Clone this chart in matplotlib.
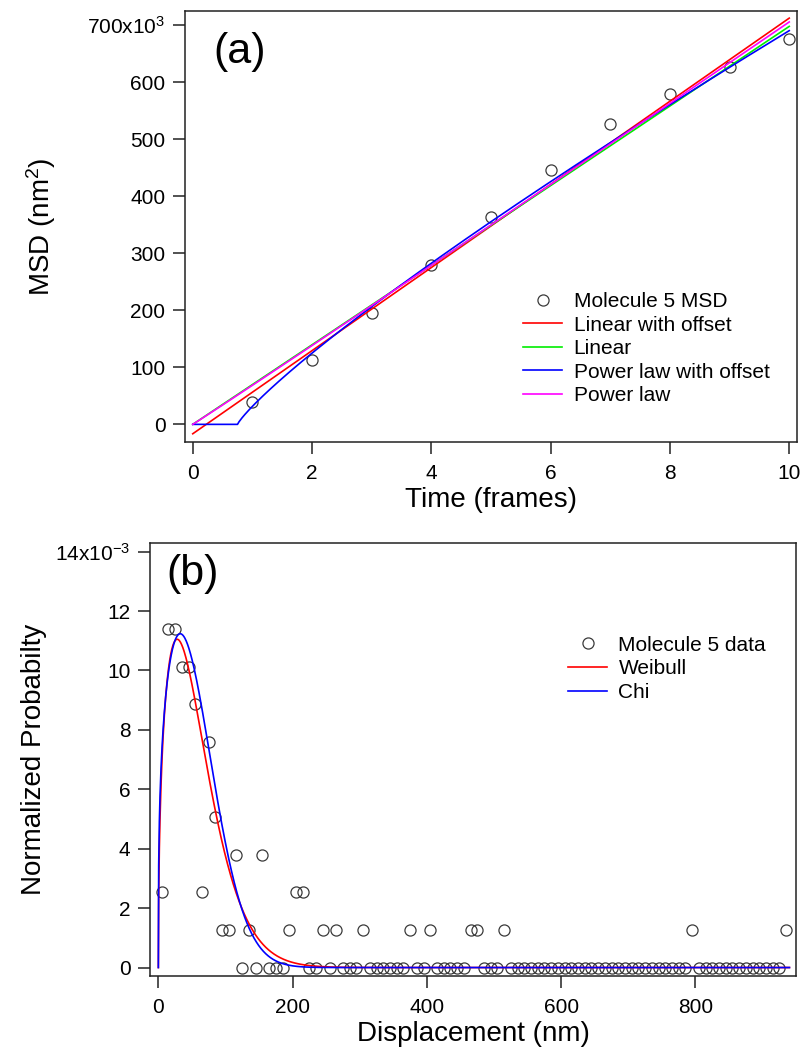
import numpy as np
import matplotlib
matplotlib.use("Agg")
import matplotlib.pyplot as plt
from matplotlib.ticker import FixedLocator, FuncFormatter

# ---------------- data: panel (a) ----------------
time_frames = [1, 2, 3, 4, 5, 6, 7, 8, 9, 10]
msd_nm2 = [40e3, 113e3, 195e3, 279e3, 363e3, 446e3, 527e3, 580e3, 626e3, 676e3]

# fit parameters
lin_off_intercept = -16.5e3
lin_off_slope = 72.9e3
lin_slope = 69.8e3
plo_amp = 103.3e3
plo_t0 = 0.75
plo_exp = 0.854
pl_amp = 68.5e3
pl_exp = 1.013

# ---------------- data: panel (b) ----------------
disp_bin_width = 10
disp_first_center = 5
norm_prob = [
    0.00253, 0.01139, 0.01139, 0.01013, 0.01013, 0.00886, 0.00253, 0.00759, 0.00506, 0.00127,  # 5..95
    0.00127, 0.00380, 0.0, 0.00127, 0.0, 0.00380, 0.0, 0.0, 0.0, 0.00127,                    # 105..195
    0.00253, 0.00253, 0.0, 0.0, 0.00127, 0.0, 0.00127, 0.0, 0.0, 0.0,                        # 205..295
    0.00127, 0.0, 0.0, 0.0, 0.0, 0.0, 0.0, 0.00127, 0.0, 0.0,                                # 305..395
    0.00127, 0.0, 0.0, 0.0, 0.0, 0.0, 0.00127, 0.00127, 0.0, 0.0,                            # 405..495
    0.0, 0.00127, 0.0, 0.0, 0.0, 0.0, 0.0, 0.0, 0.0, 0.0,                                    # 505..595
    0.0, 0.0, 0.0, 0.0, 0.0, 0.0, 0.0, 0.0, 0.0, 0.0,                                        # 605..695
    0.0, 0.0, 0.0, 0.0, 0.0, 0.0, 0.0, 0.0, 0.0, 0.00127,                                    # 705..795
    0.0, 0.0, 0.0, 0.0, 0.0, 0.0, 0.0, 0.0, 0.0, 0.0,                                        # 805..895
    0.0, 0.0, 0.0, 0.00127,                                                                  # 905..935
]
displacement_nm = disp_first_center + disp_bin_width * np.arange(len(norm_prob))

weibull_amp = 21.67e-3
weibull_k = 1.45
weibull_lambda = 62.8
chi_amp = 15.83e-3
chi_k = 1.321
chi_sigma = 57.6

# ---------------- style ----------------
plt.rcParams['font.family'] = ['Liberation Sans', 'DejaVu Sans']
plt.rcParams['mathtext.fontset'] = 'custom'
plt.rcParams['mathtext.rm'] = 'Liberation Sans'
plt.rcParams['mathtext.it'] = 'Liberation Sans'
plt.rcParams['mathtext.default'] = 'regular'

marker_color = '#3a3a3a'
lw = 1.2

fig = plt.figure(figsize=(8.04, 10.57), dpi=100)
ax1 = fig.add_axes([0.2301, 0.5818, 0.7612, 0.4078])
ax2 = fig.add_axes([0.1866, 0.0766, 0.8034, 0.4097])

# ---------------- panel (a) ----------------
t = np.linspace(0, 10, 401)
ax1.plot(time_frames, msd_nm2, linestyle='none', marker='o', markersize=8,
         markerfacecolor='none', markeredgecolor=marker_color, markeredgewidth=0.9,
         label='Molecule 5 MSD')
ax1.plot(t, lin_off_intercept + lin_off_slope * t, color='#ff0000', lw=lw, label='Linear with offset')
ax1.plot(t, lin_slope * t, color='#00ee00', lw=lw, label='Linear')
ax1.plot(t, plo_amp * np.clip(t - plo_t0, 0, None) ** plo_exp, color='#0000ff', lw=lw,
         label='Power law with offset')
ax1.plot(t, pl_amp * t ** pl_exp, color='#ff00ff', lw=lw, label='Power law')

ax1.set_xlim(-0.13, 10.13)
ax1.set_ylim(-31e3, 725e3)
ax1.xaxis.set_major_locator(FixedLocator([0, 2, 4, 6, 8, 10]))
ax1.yaxis.set_major_locator(FixedLocator([0, 100e3, 200e3, 300e3, 400e3, 500e3, 600e3, 700e3]))


def fmt_a(v, pos):
    k = int(round(v / 1e3))
    if k == 700:
        return '700x10$^{3}$'
    return str(k)


ax1.yaxis.set_major_formatter(FuncFormatter(fmt_a))
ax1.set_xlabel('Time (frames)', fontsize=20, labelpad=3)
ax1.set_ylabel('MSD (nm$^{2}$)', fontsize=20)
ax1.yaxis.set_label_coords(-0.208, 0.5)
ax1.text(0.0899, 0.905, '(a)', transform=ax1.transAxes, fontsize=31,
         ha='center', va='center')
leg1 = ax1.legend(loc='upper left', bbox_to_anchor=(0.553, 0.348), frameon=False,
                  fontsize=15, handlelength=1.85, handletextpad=0.56,
                  labelspacing=0.22, borderpad=0, borderaxespad=0)

# ---------------- panel (b) ----------------
x = np.linspace(0, 940, 1881)
weibull_curve = weibull_amp * (x / weibull_lambda) ** (weibull_k - 1) * np.exp(-(x / weibull_lambda) ** weibull_k)
chi_curve = chi_amp * (x / chi_sigma) ** (chi_k - 1) * np.exp(-x ** 2 / (2 * chi_sigma ** 2))

ax2.plot(displacement_nm, norm_prob, linestyle='none', marker='o', markersize=8,
         markerfacecolor='none', markeredgecolor=marker_color, markeredgewidth=0.9,
         label='Molecule 5 data')
ax2.plot(x, weibull_curve, color='#ff0000', lw=lw, label='Weibull')
ax2.plot(x, chi_curve, color='#0000ff', lw=lw, label='Chi')

ax2.set_xlim(-12.4, 949.7)
ax2.set_ylim(-0.286e-3, 14.29e-3)
ax2.xaxis.set_major_locator(FixedLocator([0, 200, 400, 600, 800]))
ax2.yaxis.set_major_locator(FixedLocator([0, 2e-3, 4e-3, 6e-3, 8e-3, 10e-3, 12e-3, 14e-3]))


def fmt_b(v, pos):
    k = int(round(v * 1e3))
    if k == 14:
        return '14x10$^{-3}$'
    return str(k)


ax2.yaxis.set_major_formatter(FuncFormatter(fmt_b))
ax2.set_xlabel('Displacement (nm)', fontsize=20, labelpad=3)
ax2.set_ylabel('Normalized Probabilty', fontsize=20)
ax2.yaxis.set_label_coords(-0.159, 0.5)
ax2.text(0.0658, 0.928, '(b)', transform=ax2.transAxes, fontsize=31,
         ha='center', va='center')
leg2 = ax2.legend(loc='upper left', bbox_to_anchor=(0.6475, 0.786), frameon=False,
                  fontsize=15, handlelength=1.85, handletextpad=0.56,
                  labelspacing=0.22, borderpad=0, borderaxespad=0)

for ax in (ax1, ax2):
    ax.tick_params(direction='out', length=8.6, width=1.1, labelsize=15, pad=5.5,
                   top=False, right=False, color='#222222')
    ax.tick_params(axis='x', pad=7)
    for s in ax.spines.values():
        s.set_linewidth(1.1)
        s.set_color('#222222')

fig.savefig('out.png', dpi=100)
